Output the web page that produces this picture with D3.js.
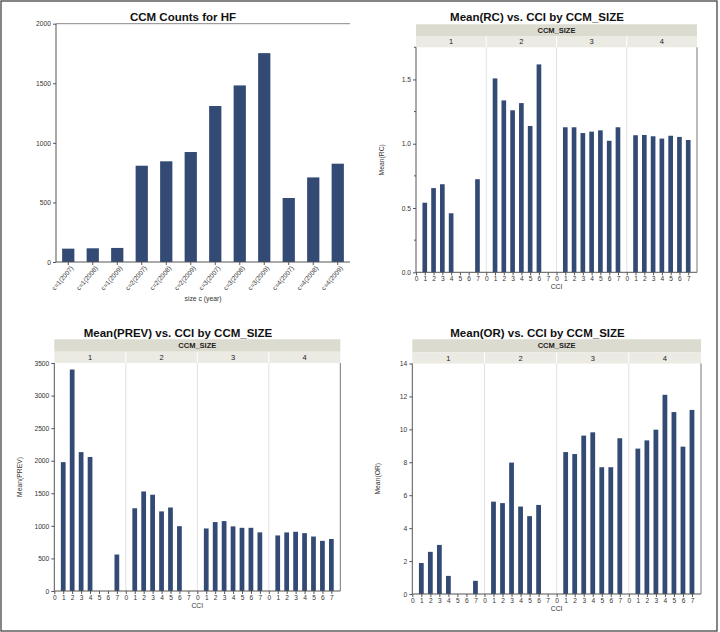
<!DOCTYPE html>
<html>
<head>
<meta charset="utf-8">
<script src="https://cdn.jsdelivr.net/npm/d3@7/dist/d3.min.js"></script>
<style>
  html, body { margin: 0; padding: 0; background: #fff; }
  svg { display: block; font-family: "Liberation Sans", Arial, Helvetica, sans-serif; }
</style>
</head>
<body>
<svg id="chart" width="720" height="632"></svg>
<script>
// ---------------- DATA ----------------
const countCategories = ["c=1(2007)", "c=1(2008)", "c=1(2009)", "c=2(2007)", "c=2(2008)", "c=2(2009)",
                         "c=3(2007)", "c=3(2008)", "c=3(2009)", "c=4(2007)", "c=4(2008)", "c=4(2009)"];
const countValues = [112, 115, 118, 808, 845, 923, 1309, 1482, 1753, 537, 710, 825];
const countTicks = [0, 500, 1000, 1500, 2000];

const ccmSizes = [1, 2, 3, 4];
const cciLevels = [0, 1, 2, 3, 4, 5, 6, 7];

// values indexed [ccm size][cci level]; null = no bar
const rcValues = [
  [null, 0.541, 0.655, 0.685, 0.459, null, null, 0.724],
  [null, 1.508, 1.337, 1.260, 1.316, 1.138, 1.617, null],
  [null, 1.128, 1.128, 1.083, 1.094, 1.104, 1.023, 1.128],
  [null, 1.066, 1.068, 1.058, 1.040, 1.062, 1.053, 1.029]
];
const rcTicks = [0.0, 0.5, 1.0, 1.5];
const rcMinorTicks = [0.25, 0.75, 1.25, 1.75];

const prevValues = [
  [null, 1978, 3400, 2132, 2057, null, null, 560],
  [null, 1270, 1528, 1478, 1222, 1282, 995, null],
  [null, 960, 1058, 1073, 992, 970, 970, 900],
  [null, 853, 899, 909, 888, 836, 770, 798]
];
const prevTicks = [0, 500, 1000, 1500, 2000, 2500, 3000, 3500];

const orValues = [
  [null, 1.88, 2.56, 2.98, 1.10, null, null, 0.80],
  [null, 5.61, 5.52, 7.98, 5.31, 4.73, 5.41, null],
  [null, 8.62, 8.50, 9.62, 9.82, 7.70, 7.70, 9.46],
  [null, 8.83, 9.33, 9.98, 12.10, 11.05, 8.95, 11.18]
];
const orTicks = [0, 2, 4, 6, 8, 10, 12, 14];

// ---------------- STYLE ----------------
const BAR = "#324a74";
const AXIS = "#555";
const TXT = "#333";

const svg = d3.select("#chart");

// outer frame
svg.append("rect").attr("x", 1).attr("y", 1).attr("width", 716).attr("height", 630)
  .attr("fill", "none").attr("stroke", "#444").attr("stroke-width", 1.3);

function styleAxis(g, fs) {
  g.selectAll(".domain").remove();
  g.selectAll(".tick line").attr("stroke", AXIS);
  g.selectAll(".tick text").attr("fill", TXT).attr("font-size", fs).attr("font-family", "Liberation Sans, Arial, sans-serif");
}

// ---------------- CHART 1: counts ----------------
(function () {
  const L = 56, R = 350, T = 23.7, B = 262;
  const x = d3.scaleBand().domain(countCategories).range([L, R]).paddingInner(0.5).paddingOuter(0.25);
  const y = d3.scaleLinear().domain([0, 2000]).range([B, T]);

  svg.append("text").attr("x", 183).attr("y", 20.5).attr("text-anchor", "middle")
    .attr("font-size", 11.5).attr("font-weight", "bold").attr("fill", "#111").text("CCM Counts for HF");

  svg.append("line").attr("x1", L).attr("x2", R).attr("y1", T).attr("y2", T).attr("stroke", "#888");

  svg.append("g").selectAll("rect").data(countValues).join("rect")
    .attr("x", (d, i) => x(countCategories[i]))
    .attr("width", x.bandwidth())
    .attr("y", d => y(d))
    .attr("height", d => B - y(d))
    .attr("fill", BAR);

  const ya = svg.append("g").attr("transform", `translate(${L},0)`)
    .call(d3.axisLeft(y).tickValues(countTicks).tickFormat(d3.format("d")).tickSize(3).tickPadding(2));
  styleAxis(ya, 6.7);
  svg.append("line").attr("x1", L).attr("x2", L).attr("y1", T).attr("y2", B).attr("stroke", AXIS);

  const xa = svg.append("g").attr("transform", `translate(0,${B})`)
    .call(d3.axisBottom(x).tickSize(3).tickPadding(2));
  styleAxis(xa, 6.5);
  xa.selectAll(".tick text").attr("text-anchor", "end").attr("dx", "-0.2em").attr("dy", "0.5em")
    .attr("transform", "rotate(-50)");
  svg.append("line").attr("x1", L).attr("x2", R).attr("y1", B).attr("y2", B).attr("stroke", AXIS);

  svg.append("text").attr("x", (L + R) / 2).attr("y", 301).attr("text-anchor", "middle")
    .attr("font-size", 6.8).attr("fill", TXT).text("size c (year)");
})();

// ---------------- FACET CHARTS ----------------
function facetChart(c) {
  const outer = d3.scaleBand().domain(ccmSizes).range([c.L, c.R]).padding(0);
  const pw = outer.bandwidth();
  const inner = d3.scaleLinear().domain([0, 8]).range([0, pw]);
  const y = d3.scaleLinear().domain([0, c.yMax]).range([c.B, c.T]);
  const barW = inner(1) * 0.53;

  // title
  svg.append("text").attr("x", c.titleX).attr("y", c.titleY).attr("text-anchor", "middle")
    .attr("font-size", 11.5).attr("font-weight", "bold").attr("fill", "#111").text(c.title);

  // header
  svg.append("rect").attr("x", c.L).attr("y", c.H0).attr("width", c.R - c.L).attr("height", c.H1 - c.H0)
    .attr("fill", "#dcdbcf");
  svg.append("rect").attr("x", c.L).attr("y", c.H1).attr("width", c.R - c.L).attr("height", c.T - c.H1)
    .attr("fill", "#ebeae3");
  svg.append("text").attr("x", (c.L + c.R) / 2).attr("y", (c.H0 + c.H1) / 2 + 2.6).attr("text-anchor", "middle")
    .attr("font-size", 7.5).attr("font-weight", "bold").attr("fill", "#222").text("CCM_SIZE");
  const hdr = svg.append("g");
  hdr.selectAll("text").data(ccmSizes).join("text")
    .attr("x", d => outer(d) + pw / 2).attr("y", (c.H1 + c.T) / 2 + 2.6).attr("text-anchor", "middle")
    .attr("font-size", 7.5).attr("fill", "#222").text(d => d);
  hdr.selectAll("line").data(ccmSizes.slice(1)).join("line")
    .attr("x1", d => outer(d)).attr("x2", d => outer(d)).attr("y1", c.H1).attr("y2", c.T)
    .attr("stroke", "#fff").attr("stroke-width", 1);

  // panel separators
  svg.append("g").selectAll("line").data(ccmSizes.slice(1)).join("line")
    .attr("x1", d => outer(d)).attr("x2", d => outer(d)).attr("y1", c.T).attr("y2", c.B)
    .attr("stroke", "#e2e2e2");

  // bars
  ccmSizes.forEach((s, si) => {
    const data = cciLevels.map((k, ki) => ({ k, v: c.values[si][ki] })).filter(d => d.v != null);
    svg.append("g").selectAll("rect").data(data).join("rect")
      .attr("x", d => outer(s) + inner(d.k) - barW / 2)
      .attr("width", barW)
      .attr("y", d => y(d.v))
      .attr("height", d => c.B - y(d.v))
      .attr("fill", BAR);

    const xa = svg.append("g").attr("transform", `translate(${outer(s)},${c.B})`)
      .call(d3.axisBottom(inner).tickValues(cciLevels).tickFormat(d3.format("d")).tickSize(3).tickPadding(1.5));
    styleAxis(xa, 6.6);
  });

  // y axis
  const ya = svg.append("g").attr("transform", `translate(${c.L},0)`)
    .call(d3.axisLeft(y).tickValues(c.yTicks).tickFormat(c.fmt).tickSize(3).tickPadding(2));
  styleAxis(ya, 6.7);
  if (c.minor) {
    svg.append("g").selectAll("line").data(c.minor).join("line")
      .attr("x1", c.L - 2).attr("x2", c.L).attr("y1", d => y(d)).attr("y2", d => y(d))
      .attr("stroke", AXIS);
  }

  // frame lines
  svg.append("line").attr("x1", c.L).attr("x2", c.L).attr("y1", c.T).attr("y2", c.B).attr("stroke", AXIS);
  svg.append("line").attr("x1", c.R).attr("x2", c.R).attr("y1", c.T).attr("y2", c.B).attr("stroke", "#777");
  svg.append("line").attr("x1", c.L).attr("x2", c.R).attr("y1", c.B).attr("y2", c.B).attr("stroke", AXIS);

  // axis titles
  svg.append("text").attr("x", (c.L + c.R) / 2).attr("y", c.B + 17).attr("text-anchor", "middle")
    .attr("font-size", 6.8).attr("fill", TXT).text("CCI");
  svg.append("text").attr("transform", `translate(${c.yLabelX},${(c.T + c.B) / 2}) rotate(-90)`)
    .attr("text-anchor", "middle").attr("font-size", 6.8).attr("fill", TXT).text(c.yLabel);
}

facetChart({
  L: 416, R: 697, T: 47.3, B: 272.3, H0: 24.3, H1: 36,
  title: "Mean(RC) vs. CCI by CCM_SIZE", titleX: 537, titleY: 20.5,
  yMax: 1.75, yTicks: rcTicks, minor: rcMinorTicks, fmt: d3.format(".1f"),
  values: rcValues, yLabel: "Mean(RC)", yLabelX: 384
});

facetChart({
  L: 54.3, R: 340.3, T: 363, B: 591, H0: 339.3, H1: 351.7,
  title: "Mean(PREV) vs. CCI by CCM_SIZE", titleX: 178, titleY: 336.5,
  yMax: 3500, yTicks: prevTicks, minor: null, fmt: d3.format("d"),
  values: prevValues, yLabel: "Mean(PREV)", yLabelX: 22
});

facetChart({
  L: 412.3, R: 701, T: 363.5, B: 594, H0: 339.3, H1: 352.3,
  title: "Mean(OR) vs. CCI by CCM_SIZE", titleX: 537.5, titleY: 337,
  yMax: 14, yTicks: orTicks, minor: null, fmt: d3.format("d"),
  values: orValues, yLabel: "Mean(OR)", yLabelX: 380
});
</script>
</body>
</html>
